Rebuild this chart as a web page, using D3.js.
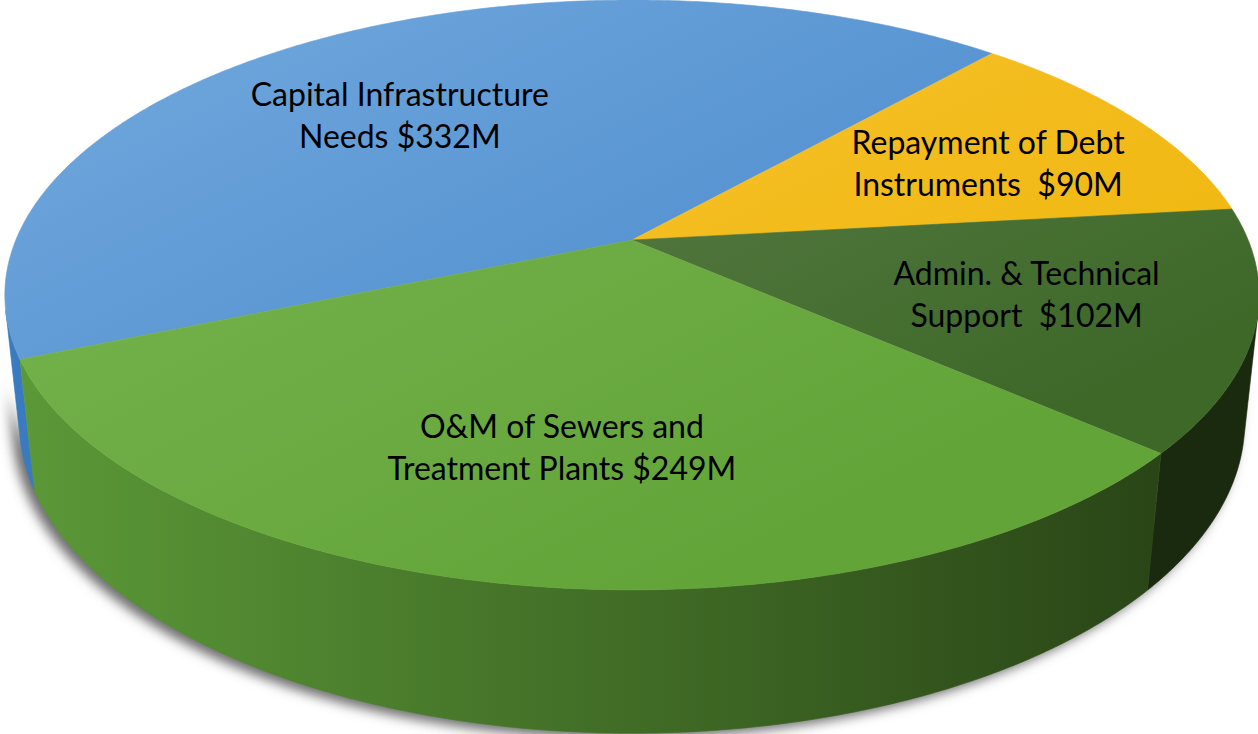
<html>
<head>
  <meta charset="utf-8">
  <title>Budget by Program - 3D Pie</title>
  <style>
    body { margin: 0; background: #fff; }
    .label { font-family: Lato, "Open Sans", sans-serif; font-size: 32px; fill: #000; white-space: pre; }
  </style>
  <script src="https://d3js.org/d3.v7.min.js"></script>
</head>
<body>
  <div id="chart"></div>
  <script>
    // Data ($ millions)
    const categories = ["Capital Infrastructure Needs", "Repayment of Debt Instruments", "Admin. & Technical Support", "O&M of Sewers and Treatment Plants"];
    const values = [332, 90, 102, 249];
    const labelLine1 = ["Capital Infrastructure", "Repayment of Debt", "Admin. & Technical", "O&M of Sewers and"];
    const labelLine2 = ["Needs ", "Instruments  ", "Support  ", "Treatment Plants "];

    // Colours: top face light/dark, side wall left/right
    const topColors = [["#6aa2da", "#4487c9"], ["#f8c232", "#efb70c"], ["#60804e", "#3d6828"], ["#76b34e", "#62a438"]];
    const sideColors = [["#3a7bbf", "#3f82c6"], ["#c99a00", "#a67f00"], ["#24381a", "#1a2a0f"], ["#5c9a38", "#2a4617"]];
    const labelShift = [[-20, 14], [19, 5], [-2, -1], [2, 1]];

    const width = 1258, height = 734;

    // Perspective camera looking down on a unit disc
    const cam = { cx: 632, cy: 240, f: 2933, D: 4.76, tilt: Math.asin(0.462) };
    const thick = 0.234;
    const sT = Math.sin(cam.tilt), cT = Math.cos(cam.tilt);

    function project(x, y, z) {
      const up = y * cT - z * sT;
      const depth = cam.D - (y * sT + z * cT);
      return [cam.cx + cam.f * x / depth, cam.cy - cam.f * up / depth];
    }
    const rim = (t, y, r = 1) => project(r * Math.cos(t), y, r * Math.sin(t));

    const start = -202.9 * Math.PI / 180;
    const pie = d3.pie().sort(null).startAngle(0).endAngle(2 * Math.PI);
    const arcs = pie(values).map((d, i) => ({ ...d, i, a0: start + d.startAngle, a1: start + d.endAngle }));

    const svg = d3.select("#chart").append("svg")
      .attr("width", width).attr("height", height);
    const defs = svg.append("defs");

    defs.append("filter").attr("id", "blur")
      .attr("x", "-10%").attr("y", "-10%").attr("width", "120%").attr("height", "130%")
      .append("feGaussianBlur").attr("stdDeviation", 6);

    topColors.forEach((c, i) => {
      const g = defs.append("linearGradient").attr("id", "top" + i)
        .attr("gradientUnits", "userSpaceOnUse")
        .attr("x1", 400).attr("y1", 0).attr("x2", 700).attr("y2", 600);
      g.append("stop").attr("offset", 0).attr("stop-color", c[0]);
      g.append("stop").attr("offset", 1).attr("stop-color", c[1]);
    });
    sideColors.forEach((c, i) => {
      const g = defs.append("linearGradient").attr("id", "side" + i)
        .attr("gradientUnits", "userSpaceOnUse")
        .attr("x1", 0).attr("y1", 0).attr("x2", 1150).attr("y2", 0);
      g.append("stop").attr("offset", 0).attr("stop-color", c[0]);
      g.append("stop").attr("offset", 1).attr("stop-color", c[1]);
    });

    const line = d3.line();
    const step = Math.PI / 360;
    const sampleAngles = (a, b) => d3.range(a, b, step).concat([b]);

    // Visible wall range (normal faces the camera)
    const vis0 = Math.asin(1 / (cam.D * cT)), vis1 = Math.PI - vis0;

    // Shadow under the disc
    const shadowPts = sampleAngles(vis0, vis1).map(t => rim(t, -thick))
      .concat(sampleAngles(vis0, vis1).reverse().map(t => rim(t, -thick + 0.12)));
    svg.append("path")
      .attr("d", line(shadowPts) + "Z")
      .attr("transform", "translate(-7,5)")
      .attr("fill", "#6e6e6e")
      .attr("filter", "url(#blur)");

    // Side walls
    arcs.forEach(d => {
      for (let k = -2; k <= 2; k++) {
        const lo = Math.max(d.a0, vis0 + 2 * Math.PI * k);
        const hi = Math.min(d.a1, vis1 + 2 * Math.PI * k);
        if (hi <= lo) continue;
        const pts = sampleAngles(lo, hi).map(t => rim(t, 0))
          .concat(sampleAngles(lo, hi).reverse().map(t => rim(t, -thick)));
        svg.append("path")
          .attr("d", line(pts) + "Z")
          .attr("fill", `url(#side${d.i})`)
          .attr("stroke", `url(#side${d.i})`)
          .attr("stroke-width", 0.6);
      }
    });

    // Top faces
    arcs.forEach(d => {
      const pts = [project(0, 0, 0)].concat(sampleAngles(d.a0, d.a1).map(t => rim(t, 0)));
      svg.append("path")
        .attr("d", line(pts) + "Z")
        .attr("fill", `url(#top${d.i})`)
        .attr("stroke", `url(#top${d.i})`)
        .attr("stroke-width", 0.6);
    });

    // Labels
    arcs.forEach(d => {
      const mid = (d.a0 + d.a1) / 2;
      const p = rim(mid, 0, 0.65);
      const x = p[0] + labelShift[d.i][0], y = p[1] + labelShift[d.i][1];
      const t = svg.append("text").attr("class", "label")
        .attr("text-anchor", "middle")
        .attr("x", x).attr("y", y - 11);
      t.append("tspan").attr("x", x).text(labelLine1[d.i]);
      t.append("tspan").attr("x", x).attr("dy", 42).text(labelLine2[d.i] + "$" + values[d.i] + "M");
    });
  </script>
</body>
</html>
